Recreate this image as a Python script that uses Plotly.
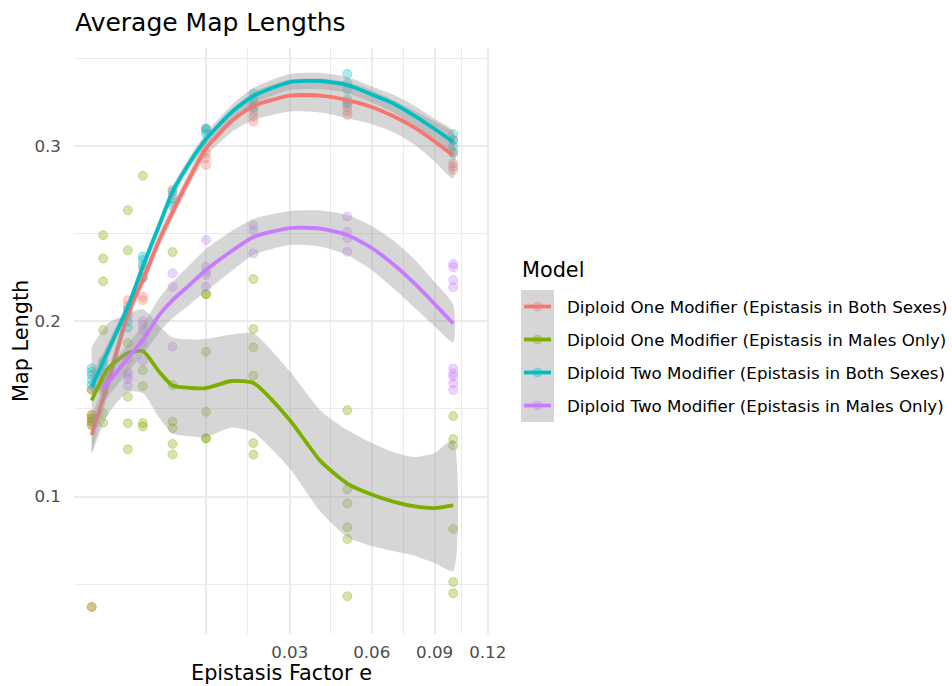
import numpy as np
import plotly.graph_objects as go

# ---------------- data ----------------
series_names = [
    "Diploid One Modifier (Epistasis in Both Sexes)",
    "Diploid One Modifier (Epistasis in Males Only)",
    "Diploid Two Modifier (Epistasis in Both Sexes)",
    "Diploid Two Modifier (Epistasis in Males Only)",
]
series_colors = ["#F8766D", "#7CAE00", "#00BFC4", "#C77CFF"]

# observed points: epistasis factor e and map length
one_both_e = [0]*6 + [0.0001]*3 + [0.001]*4 + [0.002]*4 + [0.005]*3 + [0.01]*4 + [0.02]*4 + [0.05]*4 + [0.1]*5
one_both_len = [0.161, 0.1465, 0.1446, 0.1427, 0.1408, 0.037,
                0.166, 0.160, 0.163,
                0.212, 0.209, 0.205, 0.203,
                0.214, 0.212, 0.225, 0.230,
                0.275, 0.272, 0.268,
                0.310, 0.2958, 0.293, 0.2892,
                0.3196, 0.3167, 0.3139, 0.322,
                0.3224, 0.3177, 0.325, 0.320,
                0.3034, 0.2968, 0.2901, 0.2882, 0.2863]

one_males_e = [0]*6 + [0.0001]*6 + [0.001]*6 + [0.002]*5 + [0.005]*6 + [0.01]*6 + [0.02]*6 + [0.05]*6 + [0.1]*6
one_males_len = [0.161, 0.1465, 0.1446, 0.1427, 0.1408, 0.037,
                 0.2491, 0.2358, 0.2228, 0.1950, 0.1475, 0.1421,
                 0.2634, 0.2405, 0.1875, 0.1569, 0.1418, 0.1269,
                 0.283, 0.172, 0.163, 0.142, 0.140,
                 0.2395, 0.1636, 0.1427, 0.139, 0.130, 0.124,
                 0.2155, 0.2155, 0.1826, 0.1484, 0.1332, 0.1332,
                 0.2241, 0.1956, 0.1851, 0.1689, 0.1305, 0.1239,
                 0.1492, 0.1041, 0.0961, 0.0824, 0.0757, 0.0431,
                 0.1459, 0.1328, 0.129, 0.0815, 0.0512, 0.0448]

two_both_e = [0]*5 + [0.0001]*3 + [0.001]*3 + [0.002]*4 + [0.005]*3 + [0.01]*3 + [0.02]*4 + [0.05]*5 + [0.1]*4
two_both_len = [0.1732, 0.1712, 0.1693, 0.1665, 0.1636,
                0.177, 0.171, 0.174,
                0.207, 0.200, 0.1964,
                0.237, 0.235, 0.2247, 0.232,
                0.274, 0.270, 0.266,
                0.310, 0.309, 0.307,
                0.330, 0.3244, 0.327, 0.322,
                0.3411, 0.3358, 0.3323, 0.3266, 0.3244,
                0.3068, 0.3034, 0.300, 0.2958]

two_males_e = [0.0001]*3 + [0.001]*5 + [0.002]*5 + [0.005]*3 + [0.01]*5 + [0.02]*3 + [0.05]*4 + [0.1]*9
two_males_len = [0.165, 0.168, 0.162,
                 0.178, 0.171, 0.169, 0.167, 0.163,
                 0.200, 0.198, 0.1876, 0.1773, 0.195,
                 0.2274, 0.2197, 0.1855,
                 0.2464, 0.2311, 0.2283, 0.2264, 0.2197,
                 0.2549, 0.252, 0.2388,
                 0.2597, 0.2511, 0.2473, 0.2397,
                 0.2327, 0.2308, 0.2235, 0.2194, 0.1731, 0.1703, 0.1684, 0.1646, 0.1608]

# loess fits and their standard-error half widths
fit_e = [0, 0.0002, 0.001, 0.002, 0.0035, 0.005, 0.0075, 0.01, 0.015, 0.02,
         0.03, 0.04, 0.05, 0.06, 0.07, 0.08, 0.09, 0.1]
fit_e_two_males = [0.0001, 0.0002, 0.001, 0.002, 0.0035, 0.005, 0.0075, 0.01, 0.015, 0.02,
                   0.03, 0.04, 0.05, 0.06, 0.07, 0.08, 0.09, 0.1]

one_both_fit = [0.1351, 0.1648, 0.2041, 0.2235, 0.2464, 0.2623, 0.2829, 0.2986, 0.3143, 0.3228,
                0.3288, 0.3288, 0.3262, 0.3223, 0.3168, 0.3103, 0.3026, 0.2946]
one_both_se = [0.0103, 0.0063, 0.0046, 0.0040, 0.0040, 0.0040, 0.0040, 0.0046, 0.0063, 0.0080,
               0.0091, 0.0097, 0.0103, 0.0097, 0.0091, 0.0097, 0.0114, 0.0131]

one_males_fit = [0.1548, 0.1728, 0.1819, 0.1830, 0.1710, 0.1633, 0.1619, 0.1619, 0.1659, 0.1648,
                 0.1437, 0.1203, 0.1074, 0.1011, 0.0969, 0.0943, 0.0934, 0.0949]
one_males_se = [0.0305, 0.0260, 0.0223, 0.0240, 0.0262, 0.0274, 0.0277, 0.0280, 0.0265, 0.0282,
                0.0277, 0.0288, 0.0305, 0.0294, 0.0282, 0.0282, 0.0314, 0.0374]

two_both_fit = [0.1625, 0.1830, 0.2081, 0.2312, 0.2549, 0.2738, 0.2914, 0.3040, 0.3194, 0.3285,
                0.3365, 0.3371, 0.3348, 0.3294, 0.3240, 0.3171, 0.3097, 0.3023]
two_both_se = [0.0068, 0.0046, 0.0034, 0.0034, 0.0034, 0.0034, 0.0034, 0.0034, 0.0040, 0.0046,
               0.0046, 0.0046, 0.0046, 0.0046, 0.0051, 0.0057, 0.0057, 0.0063]

two_males_fit = [0.1616, 0.1648, 0.1790, 0.1893, 0.2036, 0.2121, 0.2213, 0.2292, 0.2401, 0.2481,
                 0.2532, 0.2529, 0.2492, 0.2418, 0.2321, 0.2213, 0.2098, 0.1987]
two_males_se = [0.0080, 0.0080, 0.0080, 0.0086, 0.0097, 0.0103, 0.0114, 0.0120, 0.0114, 0.0103,
                0.0097, 0.0103, 0.0114, 0.0126, 0.0137, 0.0137, 0.0126, 0.0108]

x_tick_labels = ["0.03", "0.06", "0.09", "0.12"]
x_tick_values = [0.03, 0.06, 0.09, 0.12]
x_extra_major = [0.01]
y_tick_values = [0.1, 0.2, 0.3]
y_minor_values = [0.05, 0.15, 0.25, 0.35]

# ---------------- figure ----------------
FONT = "DejaVu Sans"
W, H = 952, 686
L, R, T, B = 74, 463, 48, 52
PW, PH = W - L - R, H - T - B

def rgba(hexc, a):
    h = hexc.lstrip("#")
    return f"rgba({int(h[0:2],16)},{int(h[2:4],16)},{int(h[4:6],16)},{a})"

points = [(one_both_e, one_both_len), (one_males_e, one_males_len),
          (two_both_e, two_both_len), (two_males_e, two_males_len)]
fits = [(fit_e, one_both_fit, one_both_se), (fit_e, one_males_fit, one_males_se),
        (fit_e, two_both_fit, two_both_se), (fit_e_two_males, two_males_fit, two_males_se)]

fig = go.Figure()
for (ex, ly), col, name in zip(points, series_colors, series_names):
    fig.add_trace(go.Scatter(
        x=np.sqrt(ex), y=ly, mode="markers", name=name, showlegend=False,
        marker=dict(size=9, color=rgba(col, 0.33), line=dict(color=rgba(col, 0.33), width=1)),
        hoverinfo="skip"))

for (ex, fy, se), col, name in zip(fits, series_colors, series_names):
    xs = np.sqrt(np.array(ex))
    fy = np.array(fy)
    se = np.array(se)
    up, lo = fy + se, fy - se
    fig.add_trace(go.Scatter(
        x=np.concatenate([xs, xs[::-1]]), y=np.concatenate([up, lo[::-1]]),
        mode="lines", fill="toself", fillcolor="rgba(153,153,153,0.4)",
        line=dict(width=0, shape="spline", smoothing=0.6), showlegend=False, hoverinfo="skip"))
    fig.add_trace(go.Scatter(
        x=xs, y=fy, mode="lines", name=name, showlegend=False,
        line=dict(color=col, width=3.8, shape="spline", smoothing=0.6), hoverinfo="skip"))

# sqrt-scale gridlines
maj_x = np.sqrt(np.array(x_extra_major + x_tick_values))
maj_txt = [""] * len(x_extra_major) + x_tick_labels
sx = np.sqrt(np.array(x_extra_major + x_tick_values))
minor_x = list((sx[:-1] + sx[1:]) / 2)

GRID = "#EBEBEB"
fig.update_xaxes(
    range=[(L - 91.7) / 1143.2, (L + PW - 91.7) / 1143.2],
    tickmode="array", tickvals=maj_x, ticktext=maj_txt,
    showgrid=True, gridcolor=GRID, gridwidth=2.2, zeroline=False, showline=False,
    ticks="", ticklabelstandoff=6,
    tickfont=dict(family=FONT, size=16.7, color="#4D4D4D"),
    minor=dict(tickmode="array", tickvals=minor_x, showgrid=True, gridcolor=GRID, gridwidth=1.1, ticks=""),
)
fig.update_yaxes(
    range=[0.3 - (H - B - 146) / 1752.5, 0.3 + (146 - T) / 1752.5],
    tickmode="array", tickvals=y_tick_values, ticktext=[str(v) for v in y_tick_values],
    showgrid=True, gridcolor=GRID, gridwidth=2.2, zeroline=False, showline=False,
    ticks="", ticklabelstandoff=12,
    tickfont=dict(family=FONT, size=16.7, color="#4D4D4D"),
    minor=dict(tickmode="array", tickvals=y_minor_values, showgrid=True, gridcolor=GRID, gridwidth=1.1, ticks=""),
)

def px2paper(px, py):
    return (px - L) / PW, (H - B - py) / PH

annotations = []
shapes = []
# title and axis titles
tx, ty = px2paper(73, 23)
annotations.append(dict(text="Average Map Lengths", x=tx, y=ty, xref="paper", yref="paper",
                        xanchor="left", yanchor="middle", showarrow=False,
                        font=dict(family=FONT, size=25, color="black")))
ax_, ay_ = px2paper(281, 673)
annotations.append(dict(text="Epistasis Factor e", x=ax_, y=ay_, xref="paper", yref="paper",
                        xanchor="center", yanchor="middle", showarrow=False,
                        font=dict(family=FONT, size=20.8, color="black")))
bx_, by_ = px2paper(21, 341)
annotations.append(dict(text="Map Length", x=bx_, y=by_, xref="paper", yref="paper",
                        xanchor="center", yanchor="middle", showarrow=False, textangle=-90,
                        font=dict(family=FONT, size=20.8, color="black")))

# legend drawn by hand (ggplot style keys)
mx, my = px2paper(520, 270)
annotations.append(dict(text="Model", x=mx, y=my, xref="paper", yref="paper",
                        xanchor="left", yanchor="middle", showarrow=False,
                        font=dict(family=FONT, size=20.8, color="black")))
kx0, ky0 = px2paper(521, 290)
kx1, ky1 = px2paper(554, 422)
shapes.append(dict(type="rect", xref="paper", yref="paper", x0=kx0, x1=kx1, y0=ky1, y1=ky0,
                   fillcolor="rgba(153,153,153,0.4)", line=dict(width=0), layer="above"))
for i, (name, col) in enumerate(zip(series_names, series_colors)):
    cy = 306.5 + 33 * i
    lx0, ly = px2paper(524, cy)
    lx1, _ = px2paper(551, cy)
    shapes.append(dict(type="line", xref="paper", yref="paper", x0=lx0, x1=lx1, y0=ly, y1=ly,
                       line=dict(color=col, width=3.8), layer="above"))
    c0x, c0y = px2paper(533, cy - 4.5)
    c1x, c1y = px2paper(542, cy + 4.5)
    shapes.append(dict(type="circle", xref="paper", yref="paper", x0=c0x, x1=c1x, y0=c1y, y1=c0y,
                       fillcolor=rgba(col, 0.33), line=dict(color=rgba(col, 0.33), width=1), layer="above"))
    txx, tyy = px2paper(565, cy)
    annotations.append(dict(text=name, x=txx, y=tyy, xref="paper", yref="paper",
                            xanchor="left", yanchor="middle", showarrow=False,
                            font=dict(family=FONT, size=16.7, color="black")))

fig.update_layout(
    width=W, height=H, margin=dict(l=L, r=R, t=T, b=B, autoexpand=False),
    paper_bgcolor="white", plot_bgcolor="white", showlegend=False,
    annotations=annotations, shapes=shapes,
    font=dict(family=FONT),
)
fig.write_html("out.html", config={"displayModeBar": False},
               post_script="document.body.style.margin='0';document.body.style.overflow='hidden';")
